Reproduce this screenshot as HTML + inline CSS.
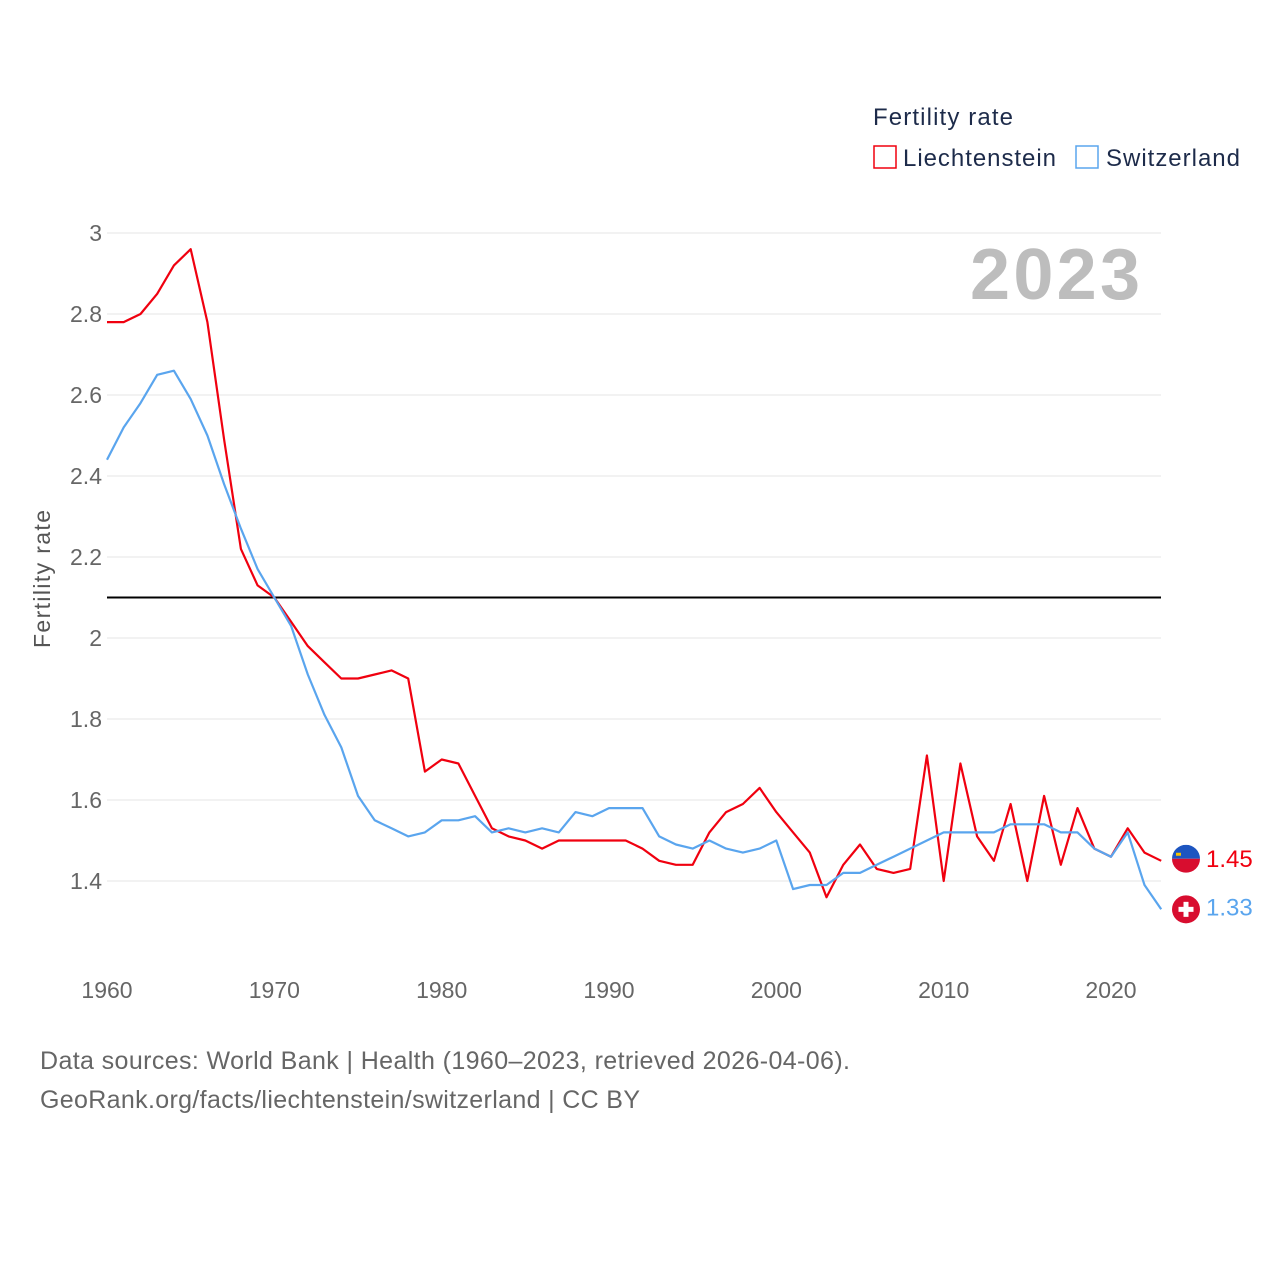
<!DOCTYPE html>
<html><head><meta charset="utf-8"><style>
body{margin:0;background:#fff;}
svg{display:block;font-family:"Liberation Sans",sans-serif;}
</style></head><body>
<svg id="chart" width="1280" height="1280" viewBox="0 0 1280 1280">
<text x="873" y="125" font-size="24" fill="#1d2b4a" textLength="140">Fertility rate</text>
<rect x="874" y="146" width="22" height="22" fill="none" stroke="#f0000f" stroke-width="1.5"/>
<text x="903" y="166" font-size="24" fill="#1d2b4a" textLength="153">Liechtenstein</text>
<rect x="1076" y="146" width="22" height="22" fill="none" stroke="#5aa5ee" stroke-width="1.5"/>
<text x="1106" y="166" font-size="24" fill="#1d2b4a" textLength="134">Switzerland</text>
<text x="1140" y="299" font-size="72" font-weight="bold" fill="#bdbdbd" text-anchor="end" textLength="170">2023</text>
<text transform="translate(50,579) rotate(-90)" font-size="23" fill="#555" text-anchor="middle" textLength="138">Fertility rate</text>
<g id="grid"></g><g id="marks"></g>
<text x="40" y="1069" font-size="25" fill="#666" textLength="810">Data sources: World Bank | Health (1960–2023, retrieved 2026-04-06).</text>
<text x="40" y="1108" font-size="25" fill="#666" textLength="600">GeoRank.org/facts/liechtenstein/switzerland | CC BY</text>
</svg>
<script>
const startYear = 1960;
const liechtenstein = [2.78,2.78,2.80,2.85,2.92,2.96,2.78,2.49,2.22,2.13,2.10,2.04,1.98,1.94,1.90,1.90,1.91,1.92,1.90,1.67,1.70,1.69,1.61,1.53,1.51,1.50,1.48,1.50,1.50,1.50,1.50,1.50,1.48,1.45,1.44,1.44,1.52,1.57,1.59,1.63,1.57,1.52,1.47,1.36,1.44,1.49,1.43,1.42,1.43,1.71,1.40,1.69,1.51,1.45,1.59,1.40,1.61,1.44,1.58,1.48,1.46,1.53,1.47,1.45];
const switzerland = [2.44,2.52,2.58,2.65,2.66,2.59,2.50,2.38,2.27,2.17,2.10,2.03,1.91,1.81,1.73,1.61,1.55,1.53,1.51,1.52,1.55,1.55,1.56,1.52,1.53,1.52,1.53,1.52,1.57,1.56,1.58,1.58,1.58,1.51,1.49,1.48,1.50,1.48,1.47,1.48,1.50,1.38,1.39,1.39,1.42,1.42,1.44,1.46,1.48,1.50,1.52,1.52,1.52,1.52,1.54,1.54,1.54,1.52,1.52,1.48,1.46,1.52,1.39,1.33];
const yTicks = [1.4,1.6,1.8,2,2.2,2.4,2.6,2.8,3];
const xTicks = [1960,1970,1980,1990,2000,2010,2020];
const replacement = 2.1;
const NS="http://www.w3.org/2000/svg";
const x = yr => 107 + (yr-1960)*(1111-107)/60;
const y = v => 881 - (v-1.4)*(881-233)/1.6;
const grid=document.getElementById('grid'), marks=document.getElementById('marks');
function mk(tag,attrs,parent,txt){const e=document.createElementNS(NS,tag);for(const k in attrs)e.setAttribute(k,attrs[k]);if(txt!==undefined)e.textContent=txt;parent.appendChild(e);return e;}
yTicks.forEach(t=>{
  const l=mk('line',{x1:107,x2:1161,y1:y(t),y2:y(t),stroke:'#e6e6e6','stroke-width':1},grid);
  
  
  const tx=mk('text',{x:102,y:y(t)+8,'font-size':23,fill:'#666','text-anchor':'end'},grid,String(t));
  
  
});
xTicks.forEach(t=>{
  const tx=mk('text',{x:x(t),y:998,'font-size':23,fill:'#666','text-anchor':'middle'},grid,String(t));
  
  
});
const rl=mk('line',{x1:107,x2:1161,y1:y(replacement),y2:y(replacement),stroke:'#000','stroke-width':2},marks);


function series(data,color,name){
  const d=data.map((v,i)=>(i?'L':'M')+x(startYear+i).toFixed(1)+','+y(v).toFixed(1)).join('');
  const p=mk('path',{d:d,fill:'none',stroke:color,'stroke-width':2.2,'stroke-linejoin':'round'},marks);
  
  
  const last=data[data.length-1];
  const ly=y(last);
  const lab=mk('text',{x:1206,y:ly+6,'font-size':24,fill:color},marks,last.toFixed(2));
  
  
  return ly;
}
const ly1=series(liechtenstein,'#f0000f','liechtenstein');
const ly2=series(switzerland,'#5aa5ee','switzerland');
const f1=mk('g',{},marks);


mk('clipPath',{id:'c1'},f1);
mk('circle',{cx:1186,cy:ly1-2,r:14},document.getElementById('c1'));
mk('rect',{x:1172,y:ly1-16,width:28,height:14,fill:'#1d55c0','clip-path':'url(#c1)'},f1);
mk('rect',{x:1172,y:ly1-2,width:28,height:14,fill:'#d80d2f','clip-path':'url(#c1)'},f1);
mk('rect',{x:1176,y:ly1-8,width:5,height:3,fill:'#f5c400'},f1);
const f2=mk('g',{},marks);


mk('circle',{cx:1186,cy:ly2,r:14,fill:'#d80d2f'},f2);
mk('rect',{x:1183.5,y:ly2-7.5,width:5,height:15,fill:'#fff'},f2);
mk('rect',{x:1178.5,y:ly2-2.5,width:15,height:5,fill:'#fff'},f2);
</script>
</body></html>
